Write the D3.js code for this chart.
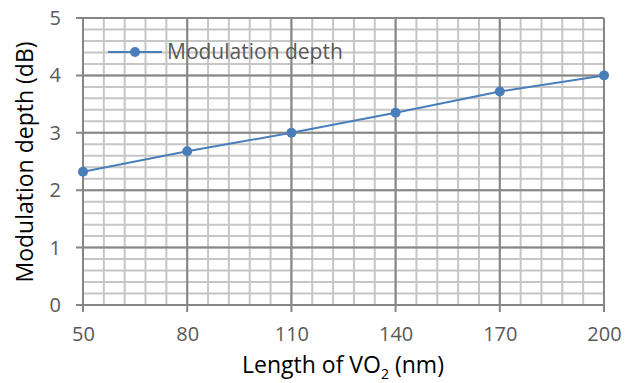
<!DOCTYPE html>
<html>
<head>
<meta charset="utf-8">
<script src="https://cdn.jsdelivr.net/npm/d3@7"></script>
<style>
  body { margin: 0; background: #fff; }
  text { font-family: 'Open Sans', sans-serif; }
</style>
</head>
<body>
<div id="chart"></div>
<script>
const lengths = [50, 80, 110, 140, 170, 200];
const depths = [2.32, 2.68, 3.0, 3.35, 3.72, 4.0];
const xTicks = [50, 80, 110, 140, 170, 200];
const yTicks = [0, 1, 2, 3, 4, 5];
const seriesName = 'Modulation depth';

const width = 633, height = 383;
const margin = {top: 18, right: 29, bottom: 78, left: 83};
const w = width - margin.left - margin.right;
const h = height - margin.top - margin.bottom;

const svg = d3.select('#chart')
  .append('svg')
    .attr('width', width)
    .attr('height', height);

const g = svg.append('g')
  .attr('transform', `translate(${margin.left}, ${margin.top})`);

const xScale = d3.scaleLinear().domain([50, 200]).range([0, w]);
const yScale = d3.scaleLinear().domain([0, 5]).range([h, 0]);

// minor grid
const xMinor = d3.range(50, 200.001, 6);
const yMinor = d3.range(0, 5.001, 0.2);

g.selectAll('.vminor')
  .data(xMinor)
  .enter().append('line')
    .attr('x1', (d) => xScale(d)).attr('x2', (d) => xScale(d))
    .attr('y1', 0).attr('y2', h)
    .attr('stroke', '#c6c6c6')
    .attr('stroke-width', 2);

g.selectAll('.hminor')
  .data(yMinor)
  .enter().append('line')
    .attr('x1', 0).attr('x2', w)
    .attr('y1', (d) => yScale(d)).attr('y2', (d) => yScale(d))
    .attr('stroke', '#c6c6c6')
    .attr('stroke-width', 2);

// major grid
g.selectAll('.vmajor')
  .data(xTicks)
  .enter().append('line')
    .attr('x1', (d) => xScale(d)).attr('x2', (d) => xScale(d))
    .attr('y1', 0).attr('y2', h + 7)
    .attr('stroke', '#868686')
    .attr('stroke-width', 2);

g.selectAll('.hmajor')
  .data(yTicks)
  .enter().append('line')
    .attr('x1', -7).attr('x2', w)
    .attr('y1', (d) => yScale(d)).attr('y2', (d) => yScale(d))
    .attr('stroke', '#868686')
    .attr('stroke-width', 2);

// axes labels
const xAxis = g.append('g')
  .attr('transform', `translate(0, ${h})`)
  .call(d3.axisBottom(xScale).tickValues(xTicks).tickFormat(d3.format('d')).tickSize(0).tickPadding(22));
xAxis.select('.domain').remove();
xAxis.selectAll('text')
  .attr('font-size', 20)
  .attr('fill', '#595959')
  .attr('font-family', "'Open Sans', sans-serif");

const yAxis = g.append('g')
  .call(d3.axisLeft(yScale).tickValues(yTicks).tickFormat(d3.format('d')).tickSize(0).tickPadding(22));
yAxis.select('.domain').remove();
yAxis.selectAll('text')
  .attr('font-size', 20)
  .attr('fill', '#595959')
  .attr('font-family', "'Open Sans', sans-serif");

// axis titles
const xTitle = svg.append('text')
  .attr('x', 343)
  .attr('y', 373)
  .attr('text-anchor', 'middle')
  .attr('font-size', 23)
  .attr('fill', '#000');
xTitle.append('tspan').text('Length of VO');
xTitle.append('tspan').attr('font-size', 14).attr('dy', 6).text('2');
xTitle.append('tspan').attr('dy', -6).text(' (nm)');

svg.append('text')
  .attr('transform', `translate(33, 162) rotate(-90)`)
  .attr('text-anchor', 'middle')
  .attr('font-size', 23)
  .attr('fill', '#000')
  .text('Modulation depth (dB)');

// series
const data = lengths.map((d, i) => ({x: d, y: depths[i]}));
const line = d3.line()
  .x((d) => xScale(d.x))
  .y((d) => yScale(d.y));

g.append('path')
  .datum(data)
  .attr('fill', 'none')
  .attr('stroke', '#4a7ebb')
  .attr('stroke-width', 2)
  .attr('d', line);

g.selectAll('.pt')
  .data(data)
  .enter().append('circle')
    .attr('cx', (d) => xScale(d.x))
    .attr('cy', (d) => yScale(d.y))
    .attr('r', 5)
    .attr('fill', '#4a7ebb');

// legend
const legend = svg.append('g').attr('transform', 'translate(108, 52)');
legend.append('line')
  .attr('x1', 0).attr('x2', 54)
  .attr('stroke', '#4a7ebb').attr('stroke-width', 2);
legend.append('circle')
  .attr('cx', 27).attr('r', 5).attr('fill', '#4a7ebb');
legend.append('text')
  .attr('x', 59).attr('dy', '0.35em')
  .attr('font-size', 21)
  .attr('fill', '#595959')
  .text(seriesName);
</script>
</body>
</html>
